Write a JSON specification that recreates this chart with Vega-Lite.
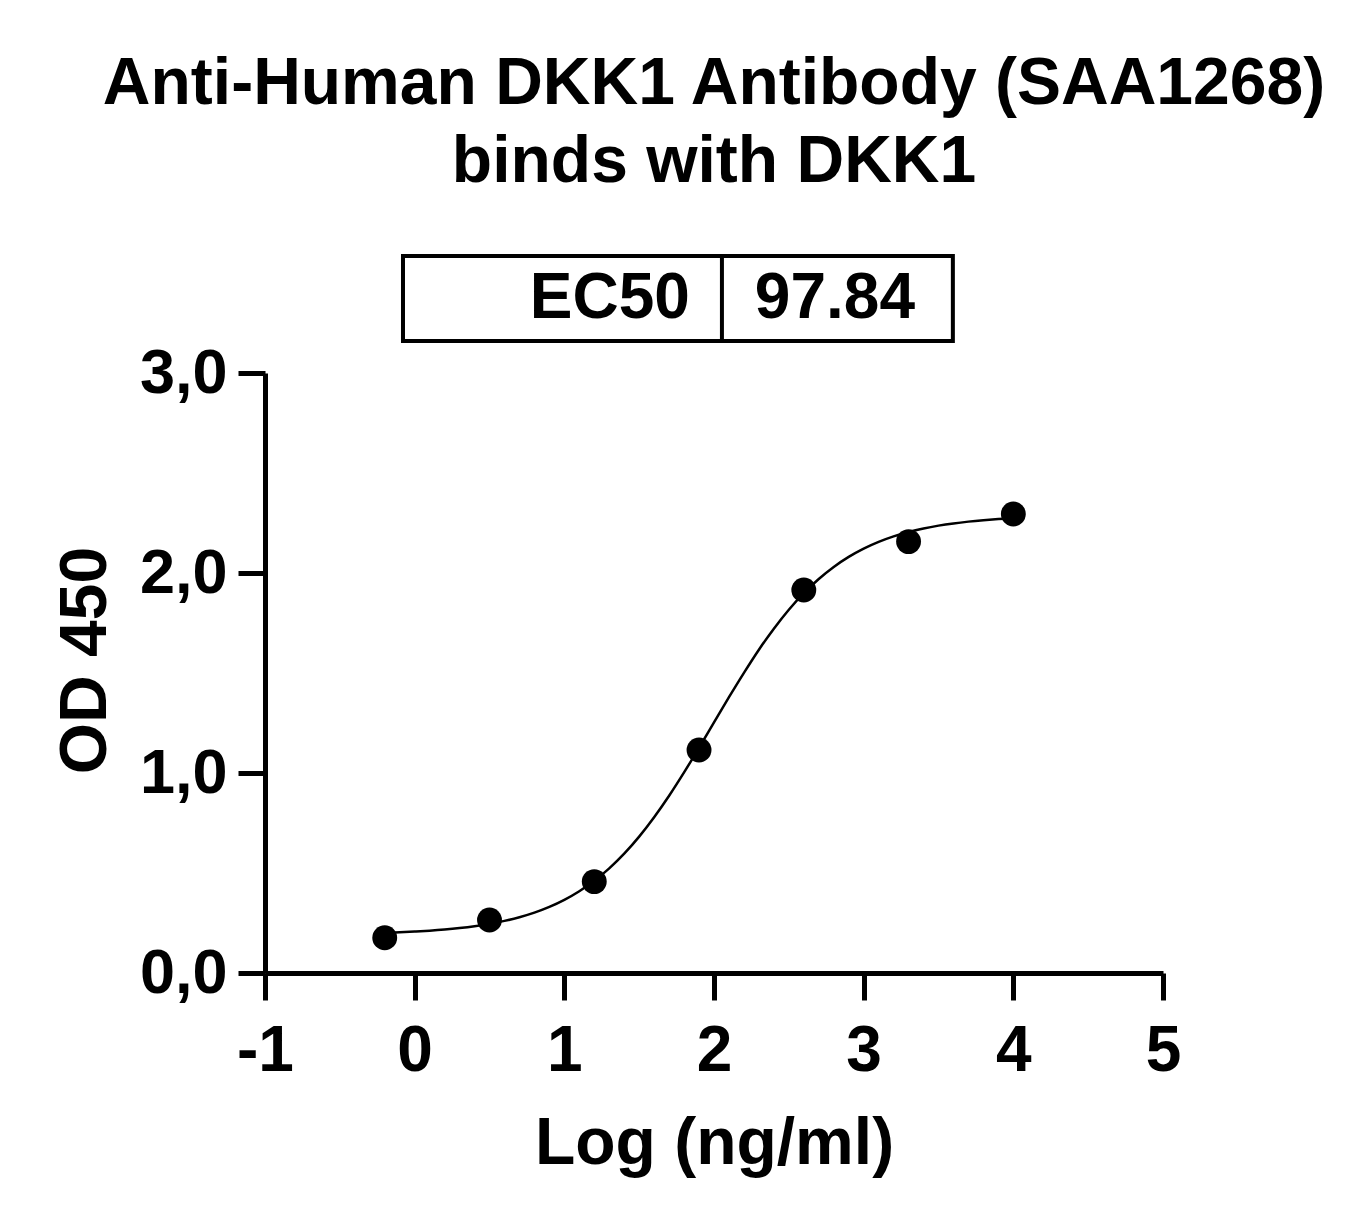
{
  "$schema": "https://vega.github.io/schema/vega-lite/v6.json",
  "width": 898,
  "height": 600,
  "autosize": {"type": "none"},
  "padding": {"left": 265, "top": 373, "right": 205, "bottom": 247},
  "background": "white",
  "title": {
    "text": ["Anti-Human DKK1 Antibody (SAA1268)", "binds with DKK1"],
    "font": "Liberation Sans",
    "fontSize": 66,
    "fontWeight": "bold",
    "color": "black",
    "lineHeight": 78,
    "anchor": "middle",
    "frame": "group",
    "offset": 58
  },
  "datasets": {
    "points": [
      {"logc": -0.2, "od": 0.176},
      {"logc": 0.5, "od": 0.265},
      {"logc": 1.2, "od": 0.457},
      {"logc": 1.9, "od": 1.115},
      {"logc": 2.6, "od": 1.915},
      {"logc": 3.3, "od": 2.157},
      {"logc": 4.0, "od": 2.295}
    ],
    "fit": [
      {"logc": -0.2, "od": 0.2005},
      {"logc": -0.1, "od": 0.2033},
      {"logc": 0.0, "od": 0.2070},
      {"logc": 0.1, "od": 0.2115},
      {"logc": 0.2, "od": 0.2173},
      {"logc": 0.3, "od": 0.2247},
      {"logc": 0.4, "od": 0.2340},
      {"logc": 0.5, "od": 0.2457},
      {"logc": 0.6, "od": 0.2605},
      {"logc": 0.7, "od": 0.2790},
      {"logc": 0.8, "od": 0.3019},
      {"logc": 0.9, "od": 0.3305},
      {"logc": 1.0, "od": 0.3657},
      {"logc": 1.1, "od": 0.4088},
      {"logc": 1.2, "od": 0.4610},
      {"logc": 1.3, "od": 0.5233},
      {"logc": 1.4, "od": 0.5967},
      {"logc": 1.5, "od": 0.6819},
      {"logc": 1.6, "od": 0.7787},
      {"logc": 1.7, "od": 0.8863},
      {"logc": 1.8, "od": 1.0030},
      {"logc": 1.9, "od": 1.1263},
      {"logc": 2.0, "od": 1.2528},
      {"logc": 2.1, "od": 1.3791},
      {"logc": 2.2, "od": 1.5009},
      {"logc": 2.3, "od": 1.6166},
      {"logc": 2.4, "od": 1.7216},
      {"logc": 2.5, "od": 1.8162},
      {"logc": 2.6, "od": 1.8992},
      {"logc": 2.7, "od": 1.9701},
      {"logc": 2.8, "od": 2.0303},
      {"logc": 2.9, "od": 2.0805},
      {"logc": 3.0, "od": 2.1219},
      {"logc": 3.1, "od": 2.1557},
      {"logc": 3.2, "od": 2.1832},
      {"logc": 3.3, "od": 2.2052},
      {"logc": 3.4, "od": 2.2227},
      {"logc": 3.5, "od": 2.2368},
      {"logc": 3.6, "od": 2.2480},
      {"logc": 3.7, "od": 2.2569},
      {"logc": 3.8, "od": 2.2639},
      {"logc": 3.9, "od": 2.2695},
      {"logc": 4.0, "od": 2.2738}
    ],
    "table": [{"label": "EC50", "value": "97.84"}]
  },
  "layer": [
    {
      "data": {"name": "fit"},
      "mark": {"type": "line", "color": "black", "strokeWidth": 2.5, "interpolate": "monotone"},
      "encoding": {
        "x": {
          "field": "logc", "type": "quantitative",
          "scale": {"domain": [-1, 5], "nice": false, "zero": false},
          "axis": {
            "values": [-1, 0, 1, 2, 3, 4, 5],
            "title": "Log (ng/ml)",
            "labelExpr": "datum.value < 0 ? '-' + abs(datum.value) : '' + datum.value",
            "labelBaseline": "alphabetic",
            "labelPadding": 70,
            "labelAlign": "center",
            "labelFontSize": 64,
            "titleBaseline": "alphabetic",
            "titleY": 190,
            "titleX": 449
          }
        },
        "y": {
          "field": "od", "type": "quantitative",
          "scale": {"domain": [0, 3], "nice": false},
          "axis": {
            "values": [0, 1, 2, 3],
            "title": "OD 450",
            "labelExpr": "replace(format(datum.value, '.1f'), '.', ',')",
            "labelPadding": 11,
            "labelBaseline": "middle",
            "titleBaseline": "alphabetic",
            "titleX": -160,
            "titleY": 287,
            "titleAngle": -90
          }
        }
      }
    },
    {
      "data": {"name": "points"},
      "mark": {"type": "point", "filled": true, "color": "black", "opacity": 1, "size": 620, "shape": "circle"},
      "encoding": {
        "x": {"field": "logc", "type": "quantitative"},
        "y": {"field": "od", "type": "quantitative"}
      }
    },
    {
      "data": {"name": "table"},
      "mark": {"type": "rect", "fill": "white", "stroke": "black", "strokeWidth": 4, "clip": false},
      "encoding": {
        "x": {"datum": -0.078},
        "x2": {"datum": 3.596},
        "y": {"datum": 3.585},
        "y2": {"datum": 3.16}
      }
    },
    {
      "data": {"name": "table"},
      "mark": {"type": "rule", "color": "black", "strokeWidth": 4, "clip": false},
      "encoding": {
        "x": {"datum": 2.053},
        "y": {"datum": 3.585},
        "y2": {"datum": 3.16}
      }
    },
    {
      "data": {"name": "table"},
      "mark": {"type": "text", "align": "right", "baseline": "middle", "font": "Liberation Sans", "fontSize": 64, "fontWeight": "bold", "color": "black", "clip": false},
      "encoding": {
        "x": {"datum": 1.839},
        "y": {"datum": 3.3725},
        "text": {"field": "label"}
      }
    },
    {
      "data": {"name": "table"},
      "mark": {"type": "text", "align": "left", "baseline": "middle", "font": "Liberation Sans", "fontSize": 64, "fontWeight": "bold", "color": "black", "clip": false},
      "encoding": {
        "x": {"datum": 2.273},
        "y": {"datum": 3.3725},
        "text": {"field": "value"}
      }
    }
  ],
  "config": {
    "view": {"stroke": null},
    "font": "Liberation Sans",
    "axis": {
      "grid": false,
      "domainColor": "black",
      "domainWidth": 5,
      "tickColor": "black",
      "tickWidth": 5,
      "tickSize": 27,
      "labelFont": "Liberation Sans",
      "labelFontSize": 63,
      "labelFontWeight": "bold",
      "labelColor": "black",
      "titleFont": "Liberation Sans",
      "titleFontSize": 66,
      "titleFontWeight": "bold",
      "titleColor": "black",
      "labelOverlap": false,
      "labelFlush": false
    }
  }
}
